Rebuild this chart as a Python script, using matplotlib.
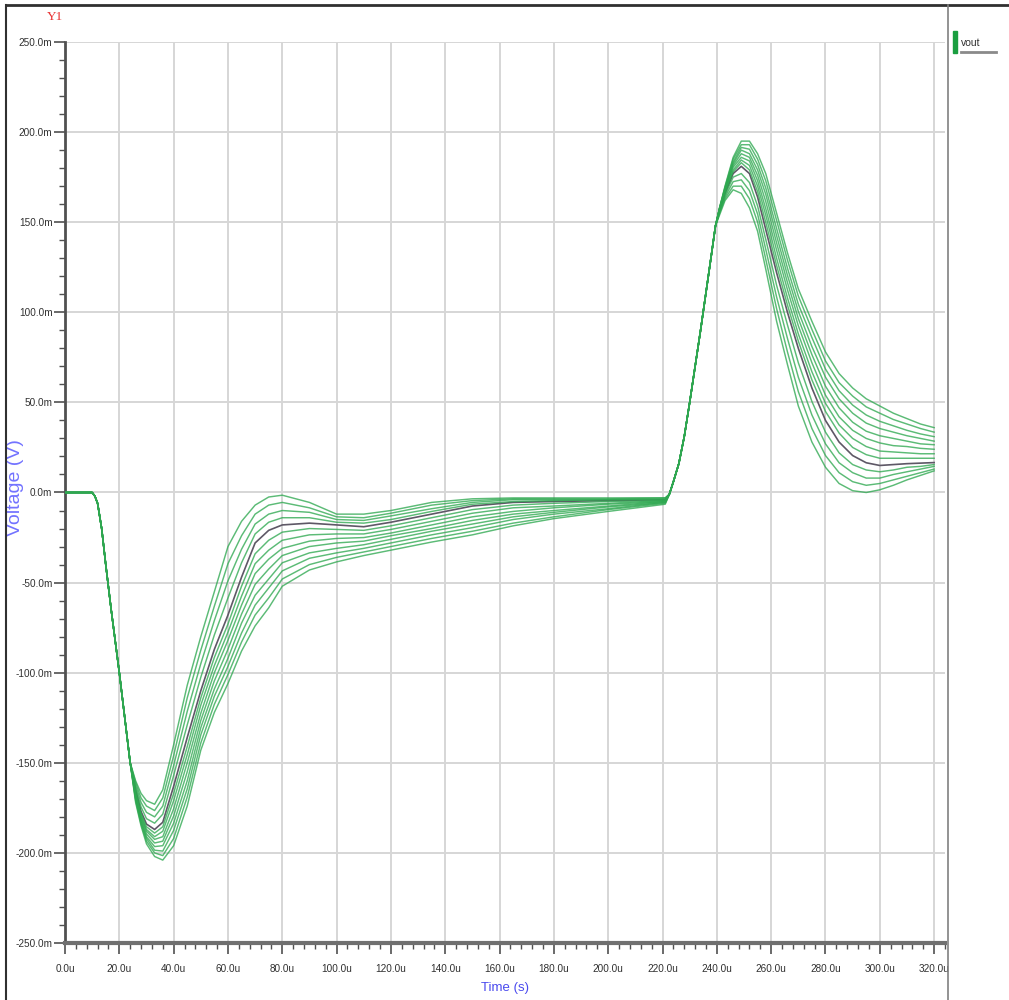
import matplotlib.pyplot as plt
from matplotlib.lines import Line2D
from matplotlib.patches import Rectangle
from matplotlib.ticker import MultipleLocator, FuncFormatter

plt.rcParams['font.family'] = ['Liberation Sans Narrow', 'Liberation Sans', 'DejaVu Sans']

# ---------------------------------------------------------------
# vout sweep, 13 runs (run 4 is the nominal one, drawn in gray)
# time in us, voltage in mV
# ---------------------------------------------------------------

# falling edge, shared by all runs
t_fall = [0, 10, 11, 12, 13.5, 15, 17, 20, 22, 24]
v_fall = [0, 0, -2, -6, -20, -40, -65, -100, -125, -150]

# undershoot and slow recovery, one row per run
t_rec = [26, 28, 30, 33, 36, 40, 45, 50, 55, 60, 65, 70, 75, 80, 90, 100,
         110, 120, 135, 150, 165, 180, 200, 221]
v_rec = [
    [-160, -167, -171, -173, -165, -140, -107, -80, -55, -30, -16, -7, -2.5, -1.5, -5.5, -12, -12, -10, -5.5, -3.5, -3, -3, -3, -3],
    [-161, -169.5, -174, -176.5, -169.5, -146, -114, -87.5, -63, -39.5, -24, -12, -7, -5.5, -8.5, -13.5, -14, -11.5, -7, -4.5, -3.5, -3.5, -3.5, -3],
    [-162.5, -172, -177.5, -180, -174, -151.5, -121.5, -95, -71, -49, -31.5, -17.5, -12, -10, -11, -15, -15.5, -13, -9, -5.5, -4, -4, -4, -3.5],
    [-164, -174.5, -181, -183.5, -178.5, -157, -129, -102.5, -79, -58.5, -39, -23, -16.5, -14, -14, -16.5, -17, -15, -10.5, -6.5, -5, -4.5, -4, -4],
    [-165, -177, -184, -187, -183, -163, -136, -110, -87, -68, -47, -28, -21, -18, -17, -18, -19, -16.5, -12, -7.5, -5.5, -5, -4.5, -4],
    [-166, -178, -185.5, -189, -185.5, -167, -141, -114, -91.5, -73, -52, -34, -26.5, -22, -20, -20.5, -21, -18.5, -14, -9.5, -7, -6, -5, -4.5],
    [-167, -179, -187, -191, -188, -171, -145.5, -118, -96, -77.5, -57.5, -39.5, -32, -26.5, -23.5, -23, -23, -20.5, -16, -11.5, -8.5, -7.5, -6, -4.5],
    [-167.5, -180, -188, -192.5, -191, -175.5, -150, -122.5, -100, -82, -62.5, -45, -37, -31, -27, -25.5, -25, -22.5, -18, -13.5, -10.5, -8.5, -6.5, -5],
    [-168.5, -181, -189.5, -194.5, -193.5, -179.5, -155, -126.5, -104.5, -87, -67.5, -51, -42.5, -35, -30, -28, -27, -24, -20, -15.5, -12, -10, -7.5, -5],
    [-169.5, -182, -191, -196.5, -196, -183.5, -160, -130.5, -109, -92, -72.5, -57, -48, -39, -33.5, -31, -29, -26, -21.5, -17.5, -13.5, -11, -8, -5.5],
    [-170, -183, -192, -198.5, -199, -187.5, -164.5, -134.5, -113, -96.5, -78, -62.5, -53, -43.5, -36.5, -33.5, -31, -28, -23.5, -19.5, -15, -12, -9, -5.5],
    [-171, -184, -193.5, -200, -201.5, -192, -169, -139, -117.5, -101, -83, -68, -58.5, -48, -40, -36, -33, -30, -25.5, -21.5, -17, -13.5, -9.5, -6],
    [-172, -185, -195, -202, -204, -196, -174, -143, -122, -106, -88, -74, -64, -52, -43, -38.5, -35, -32, -27.5, -23.5, -18.5, -14.5, -10.5, -6.5],
]

# rising edge, shared by all runs
t_rise = [222.5, 224, 226, 228, 230, 232, 234, 236, 238, 239.5]
v_rise = [-1, 6, 16, 31, 50, 70, 90, 111, 132, 148]

# overshoot and settling, one row per run
t_set = [241, 243, 246, 249, 252, 255, 258, 262, 266, 270, 275, 280, 285,
         290, 295, 300, 305, 310, 315, 320]
v_set = [
    [154, 162, 168, 166, 158, 145, 124, 95, 71, 48, 28, 14, 5, 1, 0, 1.5, 4, 7, 9.5, 12],
    [155, 163, 170, 170, 163, 150, 129.5, 102, 78, 56, 35.5, 20.5, 11, 6, 4, 5, 7, 9, 11, 13],
    [155.5, 164, 172.5, 173.5, 167.5, 154.5, 135, 108.5, 85.5, 64, 43, 27, 16.5, 11, 8, 8, 10, 11.5, 13, 14.5],
    [156, 165, 175, 177, 172, 159, 140.5, 115, 93, 72, 50.5, 33.5, 22, 15.5, 12.5, 11.5, 12.5, 14, 14.5, 15.5],
    [157, 166, 177, 181, 177, 164, 146, 122, 100, 80, 58, 40, 28, 20.5, 16.5, 15, 15.5, 16, 16.3, 16.6],
    [157, 166.5, 178, 183, 179, 167, 150, 126, 104, 84, 62.5, 45, 33, 25, 21, 19, 19, 19, 19, 19],
    [157.5, 167, 179, 184.5, 181.5, 170, 154, 130, 108, 88, 67, 49.5, 37.5, 30, 25.5, 23, 22.5, 22, 21.5, 21.5],
    [157.5, 167.5, 180.5, 186, 184, 173, 157.5, 134.5, 112.5, 92.5, 72, 54, 42, 34.5, 30, 27.5, 26, 25.5, 24.5, 24],
    [157.5, 168, 181.5, 188, 186, 176, 161.5, 138.5, 116.5, 96.5, 76.5, 59, 47, 39, 34, 31.5, 30, 28.5, 27, 26.5],
    [157.5, 168.5, 182.5, 190, 188, 179, 165.5, 142.5, 120.5, 100.5, 81, 64, 52, 44, 38.5, 35.5, 33.5, 31.5, 30, 28.5],
    [158, 169, 183.5, 191.5, 190.5, 182, 169, 146.5, 124.5, 104.5, 86, 68.5, 56.5, 48.5, 43, 39.5, 37, 34.5, 32.5, 31],
    [158, 169.5, 185, 193, 193, 185, 173, 151, 129, 109, 90.5, 73, 61, 53.5, 47.5, 44, 40.5, 38, 35.5, 33.5],
    [158, 170, 186, 195, 195, 188, 177, 155, 133, 113, 95, 78, 66, 58, 52, 48, 44, 41, 38, 36],
]
nominal = 4

# ---------------------------------------------------------------
# figure
# ---------------------------------------------------------------
W, H = 1009, 1000
fig = plt.figure(figsize=(W / 100, H / 100), dpi=100)
ax = fig.add_axes([65 / W, 57 / H, 880 / W, 901 / H])

t_all = t_fall + t_rec + t_rise + t_set

# nominal run underneath, the other runs on top of it
v_nom = v_fall + v_rec[nominal] + v_rise + v_set[nominal]
ax.plot(t_all, v_nom, color="#5e5866", lw=1.2, zorder=2,
        solid_joinstyle="round")
for k in range(len(v_rec)):
    if k == nominal:
        continue
    v_all = v_fall + v_rec[k] + v_rise + v_set[k]
    ax.plot(t_all, v_all, color="#2ea850", lw=1.05, alpha=0.78, zorder=3,
            solid_joinstyle="round")

ax.set_xlim(0, 324)
ax.set_ylim(-250, 250)

ax.xaxis.set_major_locator(MultipleLocator(20))
ax.xaxis.set_minor_locator(MultipleLocator(4))
ax.yaxis.set_major_locator(MultipleLocator(50))
ax.yaxis.set_minor_locator(MultipleLocator(10))
ax.xaxis.set_major_formatter(FuncFormatter(lambda v, p: f"{v:.1f}u"))
ax.yaxis.set_major_formatter(FuncFormatter(lambda v, p: f"{v + 0:.1f}m"))

ax.grid(True, which="major", color="#d6d6d6", lw=1.4, zorder=0)
ax.set_axisbelow(True)

for side in ("top", "right"):
    ax.spines[side].set_visible(False)
ax.spines["left"].set_color("#505050")
ax.spines["left"].set_linewidth(2)
ax.spines["bottom"].set_color("#707070")
ax.spines["bottom"].set_linewidth(3)

ax.tick_params(axis="both", which="major", length=8, width=1.2, color="#505050",
               labelsize=7.2, labelcolor="#303030", direction="out")
ax.tick_params(axis="both", which="minor", length=4, width=1.0, color="#505050",
               direction="out")
ax.tick_params(axis="x", pad=7)
ax.tick_params(axis="y", pad=1)

ax.set_xlabel("Time (s)", color="#4a4aee", fontsize=9.5, labelpad=6,
              family=["Liberation Sans Narrow", "Liberation Sans", "DejaVu Sans"])
ax.set_ylabel("Voltage (V)", color="#7272ff", fontsize=14,
              family=["Liberation Sans", "DejaVu Sans"])
ax.yaxis.set_label_coords(-41 / 880, 0.505)

fig.text(55 / W, 1 - 17 / H, "Y1", color="#e83030", fontsize=9.5,
         ha="center", va="center", family=["Liberation Serif", "DejaVu Serif"])

# outer frame and legend panel separator
fig.add_artist(Line2D([6 / W, 1], [1 - 5 / H, 1 - 5 / H], color="#303030", lw=2))
fig.add_artist(Line2D([6 / W, 6 / W], [0, 1 - 5 / H], color="#303030", lw=1.5))
fig.add_artist(Line2D([948 / W, 948 / W], [0, 1 - 5 / H], color="#808080", lw=1.2))

# legend
fig.add_artist(Rectangle((953 / W, 1 - 53 / H), 4 / W, 22 / H,
                         transform=fig.transFigure, color="#1a9e40"))
fig.text(961 / W, 1 - 43 / H, "vout", fontsize=7.5, color="#303030",
         ha="left", va="center")
fig.add_artist(Line2D([961 / W, 996 / W], [1 - 52 / H, 1 - 52 / H],
                      color="#8a8a8a", lw=2))

fig.savefig("out.png", dpi=100)
